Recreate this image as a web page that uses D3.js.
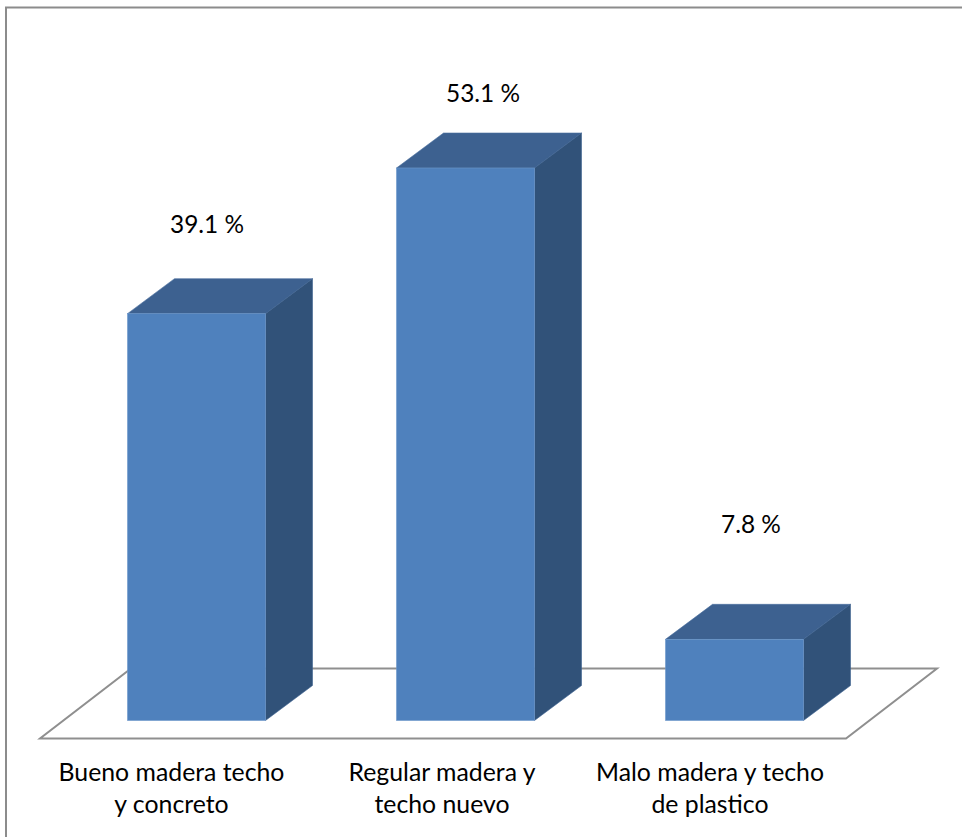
<!DOCTYPE html>
<html><head><meta charset="utf-8">
<script src="https://cdn.jsdelivr.net/npm/d3@7/dist/d3.min.js"></script>
<style>html,body{margin:0;padding:0;background:#fff}svg{display:block}</style>
</head><body><svg id="c" width="962" height="837"></svg>
<script>
const categories = [["Bueno madera techo","y concreto"],["Regular madera y","techo nuevo"],["Malo madera y techo","de plastico"]];
const values = [39.1, 53.1, 7.8];
const valueLabels = ["39.1 %","53.1 %","7.8 %"];

const svg = d3.select("#c");
const font = "Lato, 'Open Sans', sans-serif";
const x = d3.scaleBand().domain(d3.range(3)).range([62, 869]).paddingInner(131/269).paddingOuter(65.5/269);
const y = d3.scaleLinear().domain([0, 53.1]).range([720.5, 168]);
const dx = 47, dy = -35;
const valueDx = [10.5,17.5,16.5], valueDy = [-81,-66,-106], catDx = [-25,-23.5,-24.5];

svg.append("path").attr("d","M6 837V7.5H962").attr("fill","none").attr("stroke","#8c8c8c").attr("stroke-width",2);
svg.append("path").attr("d","M40 738.5H846L937 668.5H131Z").attr("fill","#fff").attr("stroke","#8f8f8f").attr("stroke-width",2);

const g = svg.selectAll("g.bar").data(values).join("g").attr("class","bar");
const line = d3.line();
g.append("path").attr("fill","#3d6190").attr("stroke","#4a6f9e").attr("stroke-width",.6)
 .attr("d",(d,i)=>{const a=x(i),b=a+x.bandwidth(),t=y(d);return line([[a,t],[a+dx,t+dy],[b+dx,t+dy],[b,t]])+"Z";});
g.append("path").attr("fill","#315279").attr("stroke","#3d6190").attr("stroke-width",.6)
 .attr("d",(d,i)=>{const b=x(i)+x.bandwidth(),t=y(d);return line([[b,t],[b+dx,t+dy],[b+dx,y(0)+dy],[b,y(0)]])+"Z";});
g.append("rect").attr("fill","#4f81bd").attr("stroke","#6d97ca").attr("stroke-width",.6)
 .attr("x",(d,i)=>x(i)).attr("y",d=>y(d)).attr("width",x.bandwidth()).attr("height",d=>y(0)-y(d));

svg.selectAll("text.v").data(values).join("text").attr("class","v")
 .attr("x",(d,i)=>x(i)+x.bandwidth()/2+valueDx[i]).attr("y",(d,i)=>y(d)+valueDy[i])
 .attr("text-anchor","middle").attr("font-family",font).attr("font-size",24.4).attr("fill","#000")
 .text((d,i)=>valueLabels[i]);

const lab = svg.selectAll("text.c").data(categories).join("text").attr("class","c")
 .attr("text-anchor","middle").attr("font-family",font).attr("font-size",24.8).attr("fill","#000");
lab.selectAll("tspan").data((d,i)=>d.map(s=>({s,i}))).join("tspan")
 .attr("x",d=>x(d.i)+x.bandwidth()/2+catDx[d.i]).attr("y",(d,j)=>781+j*32).text(d=>d.s);
</script></body></html>
